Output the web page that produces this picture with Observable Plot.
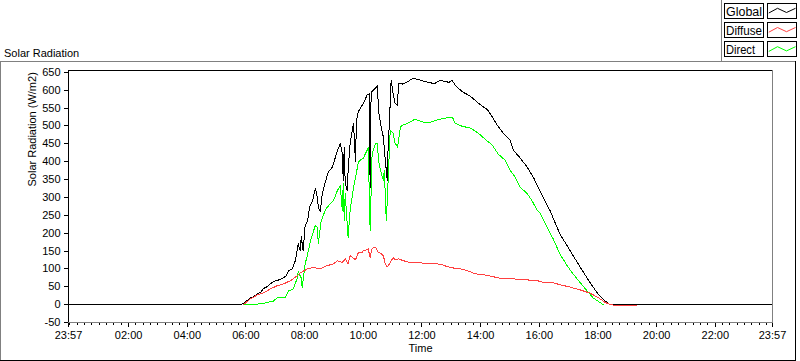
<!DOCTYPE html>
<html><head><meta charset="utf-8">
<script src="https://cdn.jsdelivr.net/npm/d3@7"></script>
<script src="https://cdn.jsdelivr.net/npm/@observablehq/plot@0.6"></script>
<style>
body{margin:0;background:#fff}
#wrap{position:relative;width:800px;height:361px;overflow:hidden;background:#fff}
#wrap svg{position:absolute;left:0;top:0}
#wrap svg path{shape-rendering:crispEdges}
</style>
</head><body><div id="wrap"></div>
<script>
// ---- data (time "HH:MM", W/m2) ----
const globalSeries = [
["-00:03",0],["05:48",0],["05:55",3],["06:09",19],["06:16",22],["06:23",30],["06:30",34],["06:36",45],["06:43",50],["06:50",58],["06:56",64],
["07:04",68],["07:10",70],["07:17",76],["07:22",80],["07:27",95],["07:35",100],["07:41",123],["07:47",170],["07:51",150],["07:53",190],
["07:57",151],["08:01",221],["08:06",235],["08:10",272],["08:16",290],["08:22",325],["08:26",300],["08:28",272],
["08:32",260],["08:36",311],["08:42",341],["08:48",370],["08:57",385],["09:07",431],["09:13",451],["09:17",423],
["09:19",348],["09:21",440],["09:23",341],["09:27",318],["09:29",376],["09:33",451],["09:40",507],["09:44",400],
["09:46",515],["09:50",540],["09:54",550],["10:00",563],["10:08",587],["10:12",590],["10:14",328],["10:16",594],
["10:25",606],["10:29",612],["10:31",544],["10:35",508],["10:41",469],["10:45",404],["10:49",348],["10:51",451],
["10:53",497],["10:57",628],["11:01",590],["11:05",563],["11:10",558],["11:12",620],["11:20",617],["11:30",623],
["11:42",634],["11:50",630],["11:57",628],["12:05",624],["12:17",621],["12:25",618],["12:37",627],["12:45",625],
["12:55",622],["13:02",627],["13:08",614],["13:22",596],["13:39",583],["13:55",564],["14:14",545],["14:24",525],
["14:34",502],["14:46",480],["15:00",460],["15:07",432],["15:21",410],["15:35",385],["15:48",356],["15:58",328],
["16:08",300],["16:18",272],["16:22",263],["16:42",198],["17:03",151],["17:24",104],["17:44",61],["18:00",30],
["18:15",10],["18:25",0],["23:57",0]
];
const diffuseSeries = [
["05:55",0],["06:09",16],["06:23",27],["06:36",33],["06:50",44],["07:04",53],["07:17",58],["07:31",67],
["07:45",81],["07:51",89],["08:06",100],["08:18",104],["08:32",100],["08:46",109],["08:59",114],["09:07",123],
["09:17",118],["09:23",128],["09:29",114],["09:33",137],["09:38",132],["09:44",125],["09:50",146],["09:58",146],
["10:00",151],["10:04",151],["10:10",156],["10:14",132],["10:18",158],["10:25",160],["10:31",146],["10:35",144],
["10:41",137],["10:45",114],["10:49",106],["10:55",117],["11:01",132],["11:05",126],["11:12",128],["11:22",123],
["11:36",117],["11:57",117],["12:11",114],["12:31",114],["12:41",112],["12:52",106],["13:02",104],["13:08",100],
["13:18",100],["13:33",95],["13:49",86],["14:05",84],["14:26",78],["14:46",72],["15:07",72],["15:27",70],
["15:56",67],["16:08",62],["16:18",61],["16:22",63],["16:42",56],["17:03",49],["17:24",41],["17:44",32],
["18:00",20],["18:15",6],["18:25",0],["18:37",-2],["19:18",-2]
];
const directSeries = [
["05:55",0],["06:30",2],["06:56",10],["07:04",19],["07:20",19],["07:27",38],["07:37",44],["07:45",75],
["07:47",93],["07:51",80],["07:53",75],["07:55",48],["08:01",114],["08:06",140],["08:12",179],["08:18",205],
["08:22",222],["08:26",216],["08:28",170],["08:32",216],["08:34",235],["08:42",263],["08:46",272],["08:53",283],
["08:59",291],["09:07",319],["09:13",333],["09:17",263],["09:19",339],["09:21",235],["09:23",311],["09:27",227],
["09:29",188],["09:33",263],["09:40",328],["09:50",398],["09:54",404],["10:00",410],["10:08",432],["10:10",441],
["10:14",207],["10:18",423],["10:25",452],["10:29",451],["10:31",404],["10:35",376],["10:41",348],["10:43",376],
["10:47",235],["10:49",291],["10:55",488],["11:01",480],["11:05",452],["11:10",441],["11:16",497],["11:20",502],
["11:32",508],["11:46",519],["12:01",511],["12:17",510],["12:37",519],["13:02",525],["13:08",507],["13:22",499],
["13:39",494],["13:55",480],["14:09",463],["14:24",446],["14:36",421],["14:50",404],["15:00",376],["15:11",356],
["15:21",328],["15:35",311],["15:45",291],["15:56",263],["16:02",255],["16:16",216],["16:28",185],["16:42",142],
["16:57",109],["17:09",86],["17:24",61],["17:38",38],["17:50",19],["18:05",5],["18:11",0]
];
const yTicks = [-50,0,50,100,150,200,250,300,350,400,450,500,550,600,650];
const xMajorTimes  = ["-00:03","02:00","04:00","06:00","08:00","10:00","12:00","14:00","16:00","18:00","20:00","22:00","23:57"];
const xMajorLabels = ["23:57","02:00","04:00","06:00","08:00","10:00","12:00","14:00","16:00","18:00","20:00","22:00","23:57"];
const seriesNames  = ["Global","Diffuse","Direct"];
const seriesColors = ["#000000","#ff4040","#00ff00"];
const chartTitle = "Solar Radiation";
const yLabel = "Solar Radiation (W/m2)";
const xLabel = "Time";

// ---- helpers ----
function toMin(s){const neg=s[0]==="-";const [h,m]=s.replace("-","").split(":").map(Number);const v=h*60+m;return neg?-v:v;}
const rows = s => s.map(([t,v])=>({t:toMin(t),v}));
const majorMins = xMajorTimes.map(toMin);
const labelMap = new Map(majorMins.map((m,i)=>[m,xMajorLabels[i]]));
const minorMins = d3.range(0,1440,15);

const W=800,H=361,mL=68,mR=28,mT=70,mB=39;
const FONT="'Liberation Sans', Arial, sans-serif";

const chart = Plot.plot({
  width:W,height:H,marginLeft:mL,marginRight:mR,marginTop:mT,marginBottom:mB,
  style:{fontFamily:FONT,fontSize:"11px",color:"#000",background:"transparent",overflow:"visible"},
  x:{type:"linear",domain:[majorMins[0],majorMins[majorMins.length-1]],axis:null},
  y:{domain:[-50,655],axis:null},
  marks:[
    Plot.axisY(yTicks,{anchor:"left",tickSize:4,tickPadding:4,tickFormat:d=>String(d),label:null,fontSize:11}),
    Plot.axisX(minorMins,{anchor:"bottom",tickSize:3,tickFormat:()=>"",label:null}),
    Plot.axisX(majorMins,{anchor:"bottom",tickSize:5,tickPadding:4,tickFormat:d=>labelMap.get(d),label:null,fontSize:11}),
    Plot.line(rows(globalSeries),{x:"t",y:"v",stroke:seriesColors[0],strokeWidth:1}),
    Plot.line(rows(directSeries),{x:"t",y:"v",stroke:seriesColors[2],strokeWidth:1}),
    Plot.line(rows(diffuseSeries),{x:"t",y:"v",stroke:seriesColors[1],strokeWidth:1}),
    Plot.text([yLabel],{text:d=>d,frameAnchor:"left",dx:-36,dy:-10,rotate:-90,fontSize:11}),
    Plot.text([xLabel],{text:d=>d,frameAnchor:"bottom",dy:29,fontSize:11})
  ]
});
const wrap=document.getElementById("wrap");
wrap.appendChild(chart);

// ---- decoration overlay: frames, title, legend ----
const pr=W-mR, pb=H-mB;
const legendTextLen=[36,36,29];
let o=`<svg width="${W}" height="${H}" xmlns="http://www.w3.org/2000/svg" style="pointer-events:none" font-family="${FONT.replace(/'/g,'')}">`;
o+=`<g shape-rendering="crispEdges" stroke-width="1" fill="none">`;
o+=`<line x1="0" y1="61.5" x2="796" y2="61.5" stroke="#808080"/>`;
o+=`<line x1="0.5" y1="61" x2="0.5" y2="361" stroke="#808080"/>`;
o+=`<line x1="0" y1="360.5" x2="796" y2="360.5" stroke="#000"/>`;
o+=`<line x1="795.5" y1="61" x2="795.5" y2="361" stroke="#000"/>`;
o+=`<line x1="721.5" y1="0" x2="721.5" y2="61" stroke="#808080"/>`;
o+=`<line x1="${mL}" y1="${mT+0.5}" x2="${pr+1}" y2="${mT+0.5}" stroke="#000"/>`;
o+=`<line x1="${mL+0.5}" y1="${mT}" x2="${mL+0.5}" y2="${pb+1}" stroke="#000"/>`;
o+=`<line x1="${mL}" y1="${pb+0.5}" x2="${pr+1}" y2="${pb+0.5}" stroke="#808080"/>`;
o+=`<line x1="${pr+0.5}" y1="${mT}" x2="${pr+0.5}" y2="${pb+1}" stroke="#808080"/>`;
seriesNames.forEach((n,i)=>{
  const y0=3.5+i*19.2;
  o+=`<rect x="724.5" y="${y0}" width="39" height="15" stroke="#000" fill="#fff"/>`;
  o+=`<rect x="767.5" y="${y0}" width="29" height="15" stroke="#000" fill="#fff"/>`;
});
o+=`</g>`;
seriesNames.forEach((n,i)=>{
  const y0=3.5+i*19.2;
  o+=`<text x="726" y="${y0+12.5}" font-size="12" fill="#000" textLength="${legendTextLen[i]}" lengthAdjust="spacingAndGlyphs">${n}</text>`;
  o+=`<polyline points="768.8,${y0+9.5} 777.5,${y0+4.8} 786.5,${y0+9} 795.5,${y0+4.8}" fill="none" stroke="${seriesColors[i]}" stroke-width="1"/>`;
});
o+=`<text x="4" y="56.5" font-size="11" fill="#000">${chartTitle}</text>`;
o+=`</svg>`;
wrap.insertAdjacentHTML("beforeend",o);
</script>
</body></html>
